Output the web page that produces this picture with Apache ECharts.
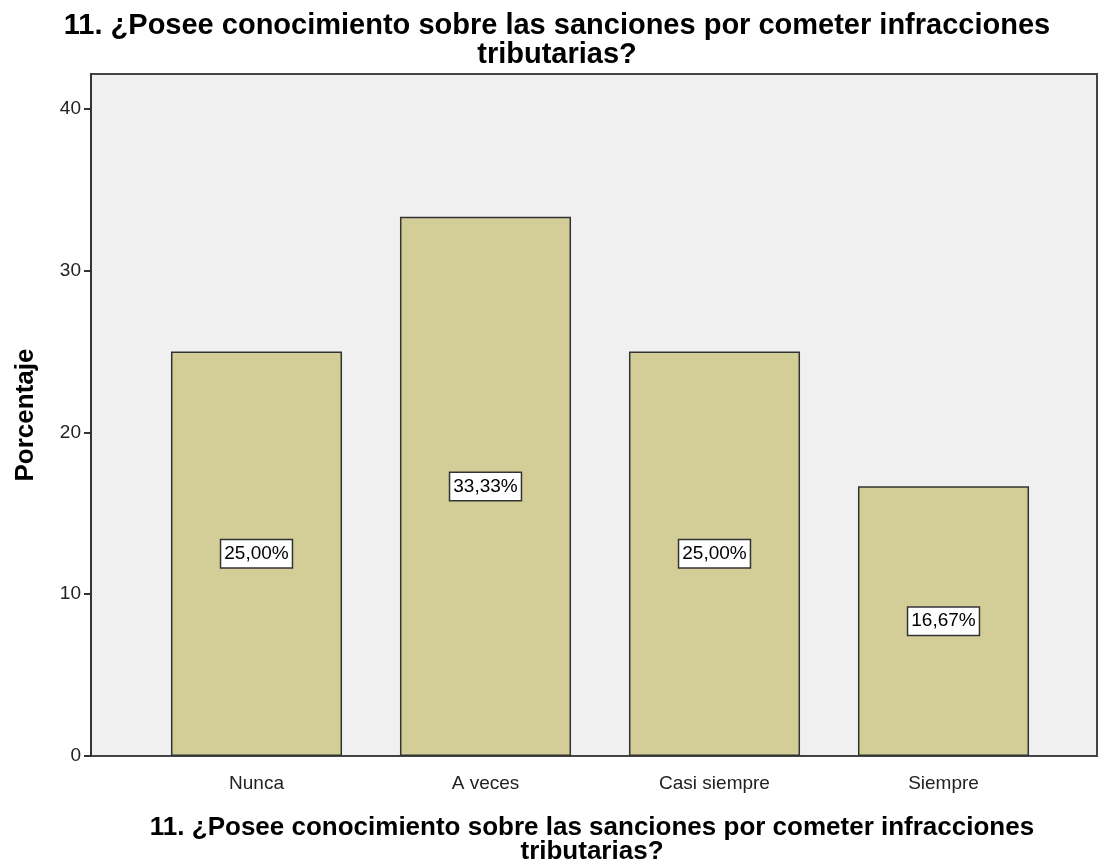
<!DOCTYPE html>
<html><head><meta charset="utf-8">
<script src="https://cdn.jsdelivr.net/npm/echarts@6/dist/echarts.min.js"></script>
<style>html,body{margin:0;padding:0;background:#fff}#c{width:1112px;height:863px}</style>
</head><body><div id="c"></div>
<script>
const categories = ['Nunca', 'A veces', 'Casi siempre', 'Siempre'];
const values = [25.00, 33.33, 25.00, 16.67];
const yTicks = [0, 10, 20, 30, 40];
const titleText = '11. ¿Posee conocimiento sobre las sanciones por cometer infracciones\ntributarias?';
const yName = 'Porcentaje';

const F = '"Liberation Sans", Arial, Helvetica, sans-serif';
const Y_MAX = 42.16;
const chart = echarts.init(document.getElementById('c'));
chart.setOption({
  animation: false,
  backgroundColor: '#fff',
  title: [{
    text: titleText, left: 552, top: 6, textAlign: 'center',
    textStyle: { fontFamily: F, fontSize: 29, fontWeight: 'bold', color: '#000', lineHeight: 29 }
  }, {
    text: titleText, left: 587, top: 811, textAlign: 'center',
    textStyle: { fontFamily: F, fontSize: 26, fontWeight: 'bold', color: '#000', lineHeight: 24 }
  }],
  grid: [
    { left: 91, top: 74, right: 15, bottom: 107, show: true, backgroundColor: '#f0f0f0', borderColor: '#444', borderWidth: 2 },
    { left: 142, top: 74, right: 54, bottom: 107 }
  ],
  xAxis: [{
    gridIndex: 0, type: 'value', min: 0, max: 1, show: false
  }, {
    gridIndex: 1, type: 'category', data: categories,
    axisLine: { show: false },
    axisTick: { alignWithLabel: true, length: 8, lineStyle: { color: '#333', width: 2 } },
    axisLabel: { fontFamily: F, fontSize: 19, color: '#222', margin: 18 }
  }],
  yAxis: [{
    gridIndex: 0, type: 'value', min: 0, max: Y_MAX,
    name: yName, nameLocation: 'middle', nameGap: 52,
    nameTextStyle: { fontFamily: F, fontSize: 26, fontWeight: 'bold', color: '#000' },
    axisLine: { show: true, lineStyle: { color: '#333', width: 2 } },
    axisTick: { show: true, length: 7, customValues: yTicks, lineStyle: { color: '#333', width: 2 } },
    axisLabel: { customValues: yTicks, fontFamily: F, fontSize: 19, color: '#222', margin: 10 },
    splitLine: { show: false }
  }, {
    gridIndex: 1, type: 'value', min: 0, max: Y_MAX, show: false, splitLine: { show: false }
  }],
  series: [{
    type: 'bar', xAxisIndex: 1, yAxisIndex: 1, data: values, barWidth: '74.7%',
    itemStyle: { color: '#d3ce98', borderColor: '#333', borderWidth: 1.5 },
    label: {
      show: true, position: 'inside',
      formatter: p => p.value.toFixed(2).replace('.', ',') + '%',
      fontFamily: F, fontSize: 19, color: '#000', lineHeight: 21,
      backgroundColor: '#fff', borderColor: '#333', borderWidth: 1.5, padding: [4, 3, 2, 3]
    }
  }]
});
</script></body></html>
